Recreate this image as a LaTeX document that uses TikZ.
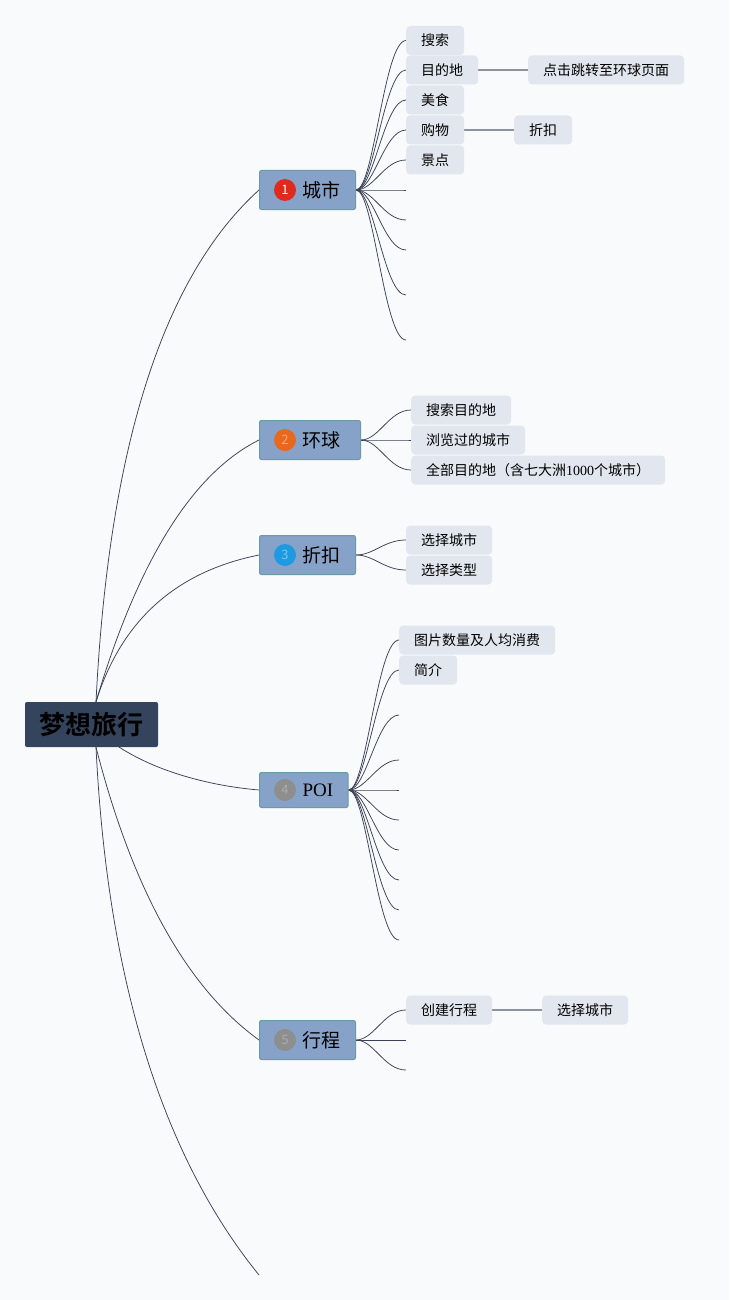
\documentclass[tikz,border=0pt]{standalone}
\usepackage{fontspec}
\newfontfamily\cjk{Noto Sans CJK SC}
\newfontfamily\cjkbold{Noto Sans CJK SC Bold}
\newfontfamily\serifl{Liberation Serif}
\usetikzlibrary{backgrounds,calc}
\definecolor{rootc}{HTML}{34445C}
\definecolor{topicc}{HTML}{87A2C8}
\definecolor{topicb}{HTML}{6B9AA3}
\definecolor{subc}{HTML}{E2E7EF}
\definecolor{linec}{HTML}{3A4156}
\definecolor{grayc}{HTML}{8F939F}
\definecolor{bgc}{HTML}{F9FAFB}
\definecolor{ired}{HTML}{E02A1C}
\definecolor{iorange}{HTML}{E8691D}
\definecolor{iorangetxt}{HTML}{F2A878}
\definecolor{iblue}{HTML}{1D9AE0}
\definecolor{ibluetxt}{HTML}{7CC6F0}
\definecolor{igray}{HTML}{8E8E8E}
\definecolor{igraytxt}{HTML}{ACACAC}
\tikzset{
  rootbox/.style={fill=rootc, rounded corners=2pt, minimum width=133pt, minimum height=45pt, inner sep=0pt, font=\cjkbold\fontsize{26}{26}\selectfont, text=black},
  topic/.style={fill=topicc, draw=topicb, line width=1pt, rounded corners=2pt, minimum height=39pt, inner xsep=15pt, inner ysep=0pt, anchor=west, font=\cjk\fontsize{19}{19}\selectfont, text=black},
  sub/.style={fill=subc, rounded corners=4pt, minimum height=29pt, inner xsep=15pt, inner ysep=0pt, anchor=west, font=\cjk\fontsize{14}{14}\selectfont, text=black},
  icon/.style={circle, minimum size=22pt, inner sep=0pt, font=\cjk\fontsize{13}{13}\selectfont},
  link/.style={draw=linec, line width=0.75pt},
  straight/.style={draw=grayc, line width=1.6pt},
}
\begin{document}
\begin{tikzpicture}[x=1pt, y=-1pt]
\useasboundingbox (0,0) rectangle (729,1300);
% root
\node[rootbox] (root) at (91.5,724.5) {梦想旅行};
% topics
\node[topic] (t1) at (259,190) {\hspace*{28pt}城市};
\node[topic] (t2) at (259,440) {\hspace*{28pt}环球\hspace*{5pt}};
\node[topic] (t3) at (259,555) {\hspace*{28pt}折扣};
\node[topic, minimum height=35pt] (t4) at (259,790) {\hspace*{28pt}{\serifl POI}};
\node[topic] (t5) at (259,1040) {\hspace*{28pt}行程};
\coordinate (t6) at (259,1275);
% icons
\node[icon, fill=ired, text=white] (i1) at ([xshift=26pt]t1.west) {1};
\node[icon, fill=iorange, text=iorangetxt] (i2) at ([xshift=26pt]t2.west) {2};
\node[icon, fill=iblue, text=ibluetxt] (i3) at ([xshift=26pt]t3.west) {3};
\node[icon, fill=igray, text=igraytxt] (i4) at ([xshift=26pt]t4.west) {4};
\node[icon, fill=igray, text=igraytxt] (i5) at ([xshift=26pt]t5.west) {5};
% branch 1
\node[sub] (c11) at (406,40.5) {搜索};
\node[sub] (c12) at (406,70) {目的地};
\node[sub] (c13) at (406,100) {美食};
\node[sub] (c14) at (406,130) {购物};
\node[sub] (c15) at (406,160) {景点};
\coordinate (c16) at (406,190);
\coordinate (c17) at (406,220);
\coordinate (c18) at (406,250);
\coordinate (c19) at (406,295);
\coordinate (c1a) at (406,340);
\node[sub] (g12) at (528,70) {点击跳转至环球页面};
\node[sub] (g14) at (514,130) {折扣};
% branch 2
\node[sub] (c21) at (411,410) {搜索目的地};
\node[sub] (c22) at (411,440) {浏览过的城市};
\node[sub] (c23) at (411,470) {全部目的地（含七大洲{\serifl 1000}个城市）};
% branch 3
\node[sub] (c31) at (406,540) {选择城市};
\node[sub] (c32) at (406,570) {选择类型};
% branch 4
\node[sub] (c41) at (399,640) {图片数量及人均消费};
\node[sub] (c42) at (399,670) {简介};
\coordinate (c43) at (399,715);
\coordinate (c44) at (399,760);
\coordinate (c45) at (399,790);
\coordinate (c46) at (399,820);
\coordinate (c47) at (399,850);
\coordinate (c48) at (399,880);
\coordinate (c49) at (399,910);
\coordinate (c4a) at (399,940);
% branch 5
\node[sub] (c51) at (406,1010) {创建行程};
\coordinate (c52) at (406,1040);
\coordinate (c53) at (406,1070);
\node[sub] (g51) at (542,1010) {选择城市};
\coordinate (rt) at ([xshift=4.5pt]root.north);
\coordinate (rb) at ([xshift=4.5pt]root.south);
\begin{pgfonlayer}{background}
\fill[bgc] (0,0) rectangle (729,1300);
% root connectors
\draw[link] (rt) .. controls (108.7,447.3) and (163,276.7) .. (t1.west);
\draw[link] (rt) .. controls (138,560.7) and (192.3,473.3) .. (t2.west);
\draw[link] (rt) .. controls (121.3,620.7) and (175.7,571.7) .. (t3.west);
\draw[link] (root.center) .. controls (130,765) and (200,785) .. (t4.west);
\draw[link] (rb) .. controls (132.7,890.3) and (187,988) .. (t5.west);
\draw[link] (rb) .. controls (107.3,979) and (161.7,1155) .. (t6);
% children connectors
\foreach \c in {c11,c12,c13,c14,c15,c16,c17,c18,c19,c1a}
  \draw[link] (t1.east) .. controls +(18,0) and +(-22,0) .. (\c.west);
\foreach \c in {c21,c22,c23}
  \draw[link] (t2.east) .. controls +(18,0) and +(-22,0) .. (\c.west);
\foreach \c in {c31,c32}
  \draw[link] (t3.east) .. controls +(18,0) and +(-22,0) .. (\c.west);
\foreach \c in {c41,c42,c43,c44,c45,c46,c47,c48,c49,c4a}
  \draw[link] (t4.east) .. controls +(18,0) and +(-22,0) .. (\c.west);
\foreach \c in {c51,c52,c53}
  \draw[link] (t5.east) .. controls +(18,0) and +(-22,0) .. (\c.west);
% straight connectors
\draw[straight] (c12.east) -- (g12.west);
\draw[straight] (c14.east) -- (g14.west);
\draw[straight] (c51.east) -- (g51.west);
\end{pgfonlayer}
\end{tikzpicture}
\end{document}
